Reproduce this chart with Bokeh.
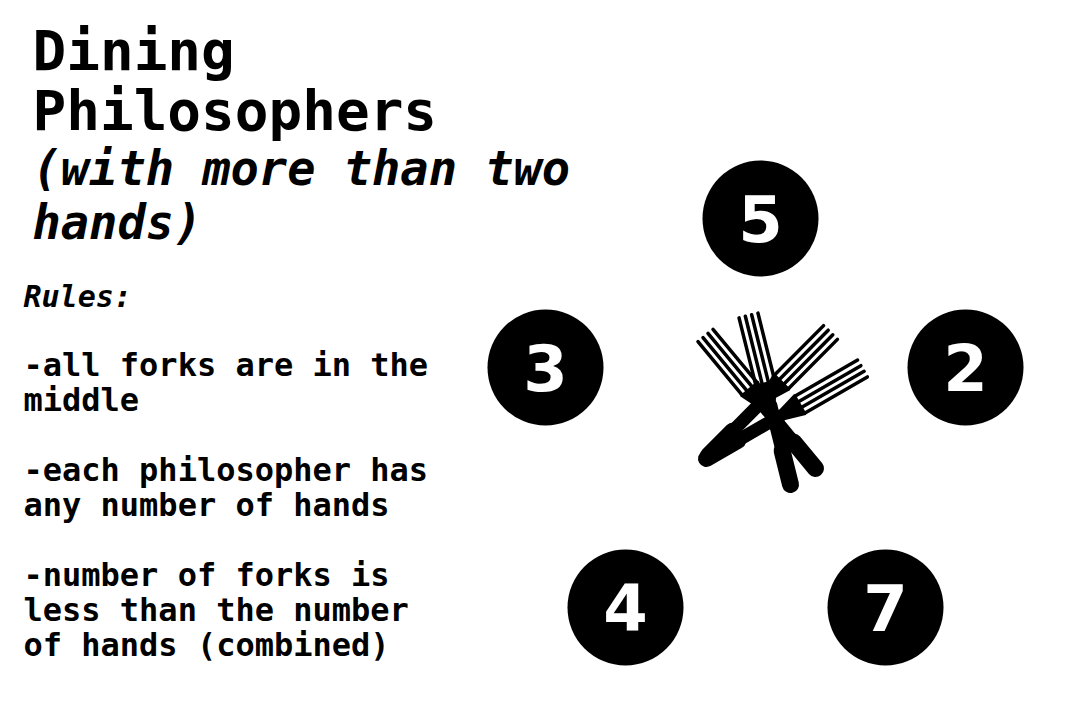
from bokeh.plotting import figure
from bokeh.models import Range1d, ColumnDataSource
from bokeh.core.properties import value
from bokeh.embed import file_html
from bokeh.resources import INLINE
import numpy as np

# philosophers (hand counts) and seat positions (page pixels)
hands = ["5", "3", "2", "4", "7"]
seat_x = [760, 545, 965, 625, 885]
seat_y = [218, 367, 367, 607, 607]

# forks: tine tip (hx, hy) and handle end (tx, ty)
fork_hx = [705, 748, 830, 862]
fork_hy = [335, 315, 332, 368]
fork_tx = [815, 790, 708, 706]
fork_ty = [468, 484, 455, 458]

title_lines = ["Dining", "Philosophers"]
subtitle_lines = ["(with more than two", "hands)"]
rule_lines = ["-all forks are in the", "middle", "",
              "-each philosopher has", "any number of hands", "",
              "-number of forks is", "less than the number", "of hands (combined)"]

W, H = 1064, 704
p = figure(width=W, height=H, x_range=Range1d(0, W), y_range=Range1d(H, 0),
           output_backend="svg", toolbar_location=None, min_border=0)
p.axis.visible = False
p.grid.visible = False
p.outline_line_color = None

mono = value("DejaVu Sans Mono")
p.text(x=[32] * 2, y=[50, 110], text=title_lines, text_font=mono, text_font_size="56px",
       text_font_style="bold", text_baseline="alphabetic", text_color="black")
p.text(x=[32] * 2, y=[168, 222], text=subtitle_lines, text_font=mono, text_font_size="47px",
       text_font_style="bold italic", text_baseline="alphabetic", text_color="black")
p.text(x=[23], y=[296], text=["Rules:"], text_font=mono, text_font_size="30px",
       text_font_style="bold italic", text_baseline="alphabetic", text_color="black")
ry = [364, 399, 434, 469, 504, 539, 574, 609, 644]
p.text(x=[23] * len(rule_lines), y=ry, text=rule_lines, text_font=mono, text_font_size="32px",
       text_font_style="bold", text_baseline="alphabetic", text_color="black")

# seats
src = ColumnDataSource(dict(x=seat_x, y=seat_y, t=hands))
p.circle(x="x", y="y", radius=58, source=src, fill_color="black", line_color=None)
p.text(x="x", y="y", text="t", source=src, text_font=value("DejaVu Sans"), text_font_size="64px",
       text_font_style="bold", text_color="white", text_align="center", text_baseline="middle")

# forks
for hx, hy, tx, ty in zip(fork_hx, fork_hy, fork_tx, fork_ty):
    h = np.array([hx, hy], float)
    t = np.array([tx, ty], float)
    d = h - t
    L = np.hypot(*d)
    d /= L
    n = np.array([-d[1], d[0]])
    base = t + d * L * 0.6
    neck = t + d * L * 0.47
    # handle, wider near the end
    p.line([t[0], neck[0]], [t[1], neck[1]], line_width=13, line_color="black", line_cap="round")
    p.line([t[0], (t + d * L * 0.2)[0]], [t[1], (t + d * L * 0.2)[1]], line_width=17,
           line_color="black", line_cap="round")
    # fork head
    hb = [base + n * 11, base - n * 11, neck - n * 4, neck + n * 4]
    p.patch([q[0] for q in hb], [q[1] for q in hb], fill_color="black", line_color="black",
            line_width=2)
    xs, ys = [], []
    for k in (-1.5, -0.5, 0.5, 1.5):
        a = base + n * k * 6.5
        b = h + n * k * 6.5
        xs.append([a[0], b[0]])
        ys.append([a[1], b[1]])
    p.multi_line(xs, ys, line_width=3.5, line_color="black", line_cap="round")

open("out.html", "w").write(file_html(p, INLINE))
